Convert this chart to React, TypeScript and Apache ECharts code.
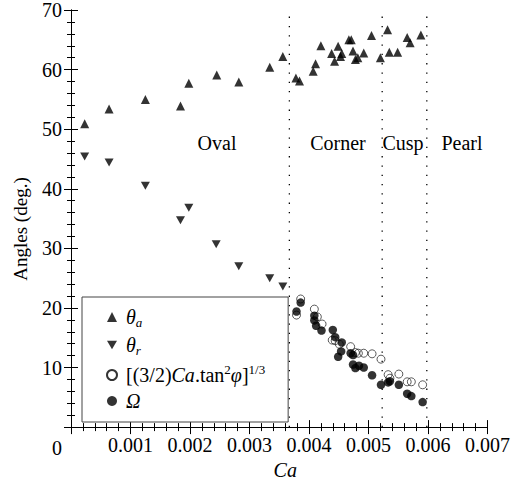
import React, { useEffect, useRef } from "react";
import * as echarts from "echarts";

const FONT = "Liberation Serif, Times New Roman, serif";

const xTicks = [0, 0.001, 0.002, 0.003, 0.004, 0.005, 0.006, 0.007];
const yTicks = [0, 10, 20, 30, 40, 50, 60, 70];
const regionBoundaries = [0.00367, 0.00523, 0.00598];
const regionNames = ["Oval", "Corner", "Cusp", "Pearl"];

const thetaA: [number, number][] = [
  [0.00023, 50.9], [0.00064, 53.4], [0.00125, 55.0], [0.00184, 53.9], [0.00198, 57.7],
  [0.00245, 59.1], [0.00282, 57.9], [0.00334, 60.4], [0.00356, 62.2], [0.00378, 58.6],
  [0.00384, 58.1], [0.00407, 59.7], [0.00411, 61.0], [0.0042, 64.0], [0.00438, 62.7],
  [0.00443, 61.4], [0.00449, 63.9], [0.00455, 62.7], [0.00453, 62.2], [0.00467, 65.0],
  [0.00471, 65.0], [0.00474, 63.1], [0.00478, 61.7], [0.00482, 62.0], [0.00492, 62.8],
  [0.00505, 65.7], [0.0052, 62.0], [0.00532, 66.7], [0.00535, 62.9], [0.00549, 62.9],
  [0.00565, 65.4], [0.0057, 64.5], [0.00588, 65.8],
];

const thetaR: [number, number][] = [
  [0.00023, 45.4], [0.00064, 44.4], [0.00125, 40.5], [0.00198, 36.8], [0.00184, 34.7],
  [0.00244, 30.7], [0.00282, 27.0], [0.00334, 25.0], [0.00356, 23.6],
];

const formulaVals: [number, number][] = [
  [0.00386, 21.5], [0.00379, 18.8], [0.00409, 19.8], [0.00414, 18.5], [0.00422, 17.3],
  [0.00439, 14.6], [0.00444, 14.5], [0.00451, 13.9], [0.0047, 13.5], [0.00478, 12.5],
  [0.00483, 12.4], [0.00492, 12.4], [0.00506, 12.3], [0.00521, 11.4], [0.00533, 8.8],
  [0.00536, 8.2], [0.00551, 8.9], [0.00565, 7.6], [0.00572, 7.6], [0.00591, 7.1],
];

const omegaVals: [number, number][] = [
  [0.00386, 20.9], [0.00379, 19.4], [0.00409, 18.7], [0.00409, 17.9], [0.00412, 17.0],
  [0.00421, 16.2], [0.0044, 16.3], [0.00444, 15.1], [0.00455, 14.2], [0.00454, 12.7],
  [0.00449, 11.8], [0.0047, 12.4], [0.00474, 12.1], [0.00474, 10.5], [0.00478, 9.9],
  [0.00484, 10.3], [0.00492, 10.0], [0.00506, 8.7], [0.00521, 7.1], [0.00533, 7.5],
  [0.00536, 7.7], [0.00551, 7.1], [0.00565, 5.6], [0.00572, 5.2], [0.00591, 4.2],
];

const legendLabels: Record<string, string> = {
  thetaA: "{sp| }{it|θ}{sub|a}",
  thetaR: "{sp| }{it|θ}{sub|r}",
  formula: "{sp| }{n|[(3/2)}{it|Ca}{n|.tan}{sup|2}{it|φ}{n|]}{sup|1/3}",
  omega: "{sp| }{it|Ω}",
};

const downTriangle = "path://M0,0L20,0L10,17.3Z";

export default function App() {
  const ref = useRef<HTMLDivElement>(null);
  useEffect(() => {
    if (!ref.current) return;
    const chart = echarts.init(ref.current, undefined, { renderer: "svg" });
    const axisCommon = {
      axisLine: { show: true, lineStyle: { color: "#000", width: 1 } },
      axisTick: { show: true, inside: true, length: 7, lineStyle: { color: "#000" } },
      minorTick: { show: true, splitNumber: 5, length: 4, lineStyle: { color: "#000" } },
      splitLine: { show: false },
      minorSplitLine: { show: false },
    };
    const labelStyle = { fontFamily: FONT, fontSize: 20, color: "#000" };
    const regionLabelY = 143;
    const regionX = [217, 338, 403, 462];
    const yMin = yTicks[0];
    const yMax = yTicks[yTicks.length - 1];
    chart.setOption({
      animation: false,
      backgroundColor: "#fff",
      grid: { left: 71, right: 19, top: 9, bottom: 54, containLabel: false },
      xAxis: [
        {
          type: "value",
          min: xTicks[0],
          max: xTicks[xTicks.length - 1],
          interval: 0.001,
          position: "bottom",
          ...axisCommon,
          axisLabel: {
            ...labelStyle,
            margin: 8,
            formatter: (v: number) => (v === 0 ? "" : v.toFixed(3)),
          },
          name: "Ca",
          nameLocation: "middle",
          nameGap: 28,
          nameTextStyle: { fontFamily: FONT, fontSize: 20, fontStyle: "italic", color: "#000", padding: [0, 0, 0, 12] },
        },
        {
          type: "value",
          min: xTicks[0],
          max: xTicks[xTicks.length - 1],
          interval: 0.001,
          position: "top",
          ...axisCommon,
          axisLabel: { show: false },
        },
      ],
      yAxis: [
        {
          type: "value",
          min: yMin,
          max: yMax,
          interval: 10,
          position: "left",
          ...axisCommon,
          axisLabel: {
            ...labelStyle,
            margin: 9,
            formatter: (v: number) => (v === 0 ? "" : String(v)),
          },
        },
        {
          type: "value",
          min: yMin,
          max: yMax,
          interval: 10,
          position: "right",
          ...axisCommon,
          axisLabel: { show: false },
        },
      ],
      legend: {
        left: 82,
        top: 297,
        orient: "vertical",
        padding: [10, 23, 11, 24],
        itemGap: 6,
        itemWidth: 10,
        itemHeight: 10,
        borderColor: "#444",
        borderWidth: 1,
        backgroundColor: "#fff",
        data: ["thetaA", "thetaR", "formula", "omega"],
        formatter: (name: string) => legendLabels[name],
        textStyle: {
          fontFamily: FONT,
          fontSize: 20,
          color: "#000",
          rich: {
            sp: { fontFamily: FONT, fontSize: 8, width: 4 },
            it: { fontFamily: FONT, fontSize: 20, fontStyle: "italic", lineHeight: 24, verticalAlign: "middle" },
            n: { fontFamily: FONT, fontSize: 20, lineHeight: 24, verticalAlign: "middle" },
            sub: { fontFamily: FONT, fontSize: 13, fontStyle: "italic", verticalAlign: "bottom" },
            sup: { fontFamily: FONT, fontSize: 13, verticalAlign: "top" },
          },
        },
      },
      graphic: [
        ...regionNames.map((t, i) => ({
          type: "text",
          x: regionX[i],
          y: regionLabelY,
          silent: true,
          style: { text: t, fontFamily: FONT, fontSize: 20, fill: "#000", align: "center", verticalAlign: "middle" },
        })),
        {
          type: "text",
          x: 57,
          y: 448,
          silent: true,
          style: { text: "0", fontFamily: FONT, fontSize: 20, fill: "#000", align: "center", verticalAlign: "middle" },
        },
        {
          type: "text",
          x: 20,
          y: 229,
          rotation: Math.PI / 2,
          silent: true,
          style: { text: "Angles (deg.)", fontFamily: FONT, fontSize: 19, fill: "#000", align: "center", verticalAlign: "middle" },
        },
      ],
      series: [
        ...regionBoundaries.map((b, i) => ({
          name: "boundary" + i,
          type: "line",
          data: [[b, yMin], [b, yMax]],
          showSymbol: false,
          symbol: "none",
          silent: true,
          lineStyle: { color: "#000", width: 1.3, type: [1.3, 8] },
          z: 1,
        })),
        {
          name: "thetaA",
          type: "scatter",
          symbol: "triangle",
          symbolSize: 9,
          itemStyle: { color: "#000" },
          data: thetaA,
          z: 3,
        },
        {
          name: "thetaR",
          type: "scatter",
          symbol: downTriangle,
          symbolSize: [9, 8],
          itemStyle: { color: "#000" },
          data: thetaR,
          z: 3,
        },
        {
          name: "formula",
          type: "scatter",
          symbol: "circle",
          symbolSize: 8,
          itemStyle: { color: "rgba(255,255,255,0)", borderColor: "#000", borderWidth: 0.8 },
          data: formulaVals,
          z: 3,
        },
        {
          name: "omega",
          type: "scatter",
          symbol: "circle",
          symbolSize: 8.5,
          itemStyle: { color: "#000" },
          data: omegaVals,
          z: 4,
        },
      ],
    });
    return () => chart.dispose();
  }, []);
  return <div ref={ref} style={{ position: "fixed", left: 0, top: 0, width: 513, height: 485 }} />;
}
